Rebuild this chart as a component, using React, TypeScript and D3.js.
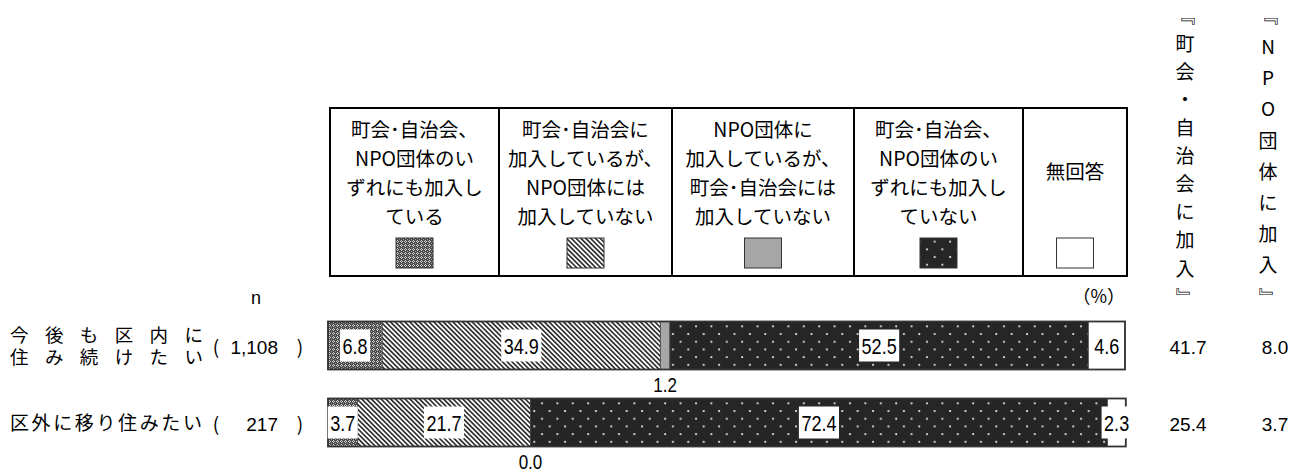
import React from 'react';
import * as d3 from 'd3';

// ---- data ----
const categories = ['今後も区内に住み続けたい', '区外に移り住みたい'];
const categoryLines = [['今後も区内に', '住み続けたい'], ['区外に移り住みたい']];
const sampleSizes = [1108, 217];

const seriesNames = [
  '町会･自治会、NPO団体のいずれにも加入している',
  '町会･自治会に加入しているが、NPO団体には加入していない',
  'NPO団体に加入しているが、町会･自治会には加入していない',
  '町会･自治会、NPO団体のいずれにも加入していない',
  '無回答',
];
const legendLines = [
  ['町会･自治会、', 'NPO団体のい', 'ずれにも加入し', 'ている'],
  ['町会･自治会に', '加入しているが、', 'NPO団体には', '加入していない'],
  ['NPO団体に', '加入しているが、', '町会･自治会には', '加入していない'],
  ['町会･自治会、', 'NPO団体のい', 'ずれにも加入し', 'ていない'],
  ['無回答'],
];

const rowValues = [
  [6.8, 34.9, 1.2, 52.5, 4.6],
  [3.7, 21.7, 0.0, 72.4, 2.3],
];
const townJoinTotals = [41.7, 25.4];
const npoJoinTotals = [8.0, 3.7];

const townHeader = '『町会・自治会に加入』';
const npoHeader = '『NPO団体に加入』';

// ---- layout / style ----
const W = 1304;
const H = 473;
const JP = "'Noto Sans CJK JP', sans-serif";
const NUM = "'Liberation Sans', Arial, sans-serif";
const fills = ['url(#pCross)', 'url(#pDiag)', '#a6a6a6', 'url(#pDots)', '#ffffff'];
const legendEdges = [330, 499, 672, 854, 1023, 1127];

const App = () => {
  const x = d3.scaleLinear().domain([0, 100]).range([328, 1125]);
  const y = d3.scalePoint<string>().domain(categories).range([345.5, 422.5]);
  const barH = 48;
  const fmt = d3.format('.1f');

  const labelWidth = (s: string) => {
    const digits = s.replace(/[^0-9]/g, '').length;
    return (digits * 0.556 + 0.278) * 22 * 0.82;
  };

  return (
    <svg width={W} height={H} style={{ position: 'absolute', left: 0, top: 0, background: '#fff' }}>
      <defs>
        <pattern id="pCross" width={4} height={4} patternUnits="userSpaceOnUse">
          <rect width={4} height={4} fill="#4a4a4a" />
          <rect x={1} y={0} width={1} height={1} fill="#d4d4d4" />
          <rect x={0} y={1} width={1} height={1} fill="#d4d4d4" />
          <rect x={2} y={1} width={1} height={1} fill="#d4d4d4" />
          <rect x={1} y={2} width={1} height={1} fill="#d4d4d4" />
          <rect x={3} y={3} width={1} height={1} fill="#9a9a9a" />
        </pattern>
        <pattern id="pDiag" width={3.4} height={3.4} patternUnits="userSpaceOnUse" patternTransform="rotate(-45)">
          <rect width={3.4} height={3.4} fill="#ffffff" />
          <rect width={1.7} height={3.4} fill="#333333" />
        </pattern>
        <pattern id="pDots" width={15.4} height={15.4} patternUnits="userSpaceOnUse">
          <rect width={15.4} height={15.4} fill="#262626" />
          <circle cx={3} cy={3} r={1.1} fill="#e6e6e6" />
          <circle cx={10.7} cy={10.7} r={1.1} fill="#e6e6e6" />
        </pattern>
      </defs>

      {/* legend table */}
      {seriesNames.map((name, i) => {
        const x0 = legendEdges[i];
        const x1 = legendEdges[i + 1];
        const cx = (x0 + x1) / 2;
        const lines = legendLines[i];
        const lineYs = lines.length === 1 ? [172] : lines.map((_, k) => 130 + k * 29);
        return (
          <g key={name}>
            <rect x={x0} y={108} width={x1 - x0} height={168} fill="none" stroke="#000" strokeWidth={2} />
            {lines.map((ln, k) => (
              <text key={k} x={cx} y={lineYs[k]} dy="0.35em" textAnchor="middle"
                fontFamily={JP} fontSize={19.5} fill="#000">{ln}</text>
            ))}
            <rect x={cx - 18.5} y={238} width={37} height={30} fill={fills[i]} stroke="#333" strokeWidth={1} />
          </g>
        );
      })}

      {/* vertical headers on the right */}
      {[townHeader, npoHeader].map((hdr, j) => {
        const chars = Array.from(hdr);
        const step = (297 - 16) / (chars.length - 1);
        const cx = j === 0 ? 1185 : 1268;
        return chars.map((c, k) => {
          const cy = 16 + k * step;
          const bracket = c === '『' || c === '』';
          return (
            <text key={`${j}-${k}`} x={cx} y={cy} dy="0.35em" textAnchor="middle"
              transform={bracket ? `rotate(90,${cx},${cy})` : undefined}
              fontFamily={JP} fontSize={19} fill="#000">{c}</text>
          );
        });
      })}

      <text x={256} y={298} dy="0.35em" textAnchor="middle" fontFamily={NUM} fontSize={18} fill="#000">n</text>
      <text x={1125} y={297} dy="0.35em" textAnchor="end" fontFamily={JP} fontSize={18} fill="#000">（%）</text>

      {/* rows */}
      {categories.map((cat, r) => {
        const cy = y(cat) as number;
        const vals = rowValues[r];
        const ends = Array.from(d3.cumsum(vals));
        const starts = ends.map((e, k) => e - vals[k]);
        const lines = categoryLines[r];
        return (
          <g key={cat}>
            {lines.length === 2 ? (
              <text fontFamily={JP} fontSize={18.5} fill="#000">
                {lines.map((ln, k) => (
                  <tspan key={k} x={10} y={cy - 10 + k * 22} dy="0.35em" textLength={193} lengthAdjust="spacing">{ln}</tspan>
                ))}
              </text>
            ) : (
              <text x={10} y={cy + 1} dy="0.35em" textLength={192} lengthAdjust="spacing"
                fontFamily={JP} fontSize={19} fill="#000">{lines[0]}</text>
            )}
            <text x={216} y={cy + 1.5} dy="0.35em" textAnchor="middle" fontFamily={JP} fontSize={19} fill="#000">(</text>
            <text x={278} y={cy + 1.5} dy="0.35em" textAnchor="end" fontFamily={NUM} fontSize={19} fill="#000">
              {d3.format(',')(sampleSizes[r])}
            </text>
            <text x={300} y={cy + 1.5} dy="0.35em" textAnchor="middle" fontFamily={JP} fontSize={19} fill="#000">)</text>

            {vals.map((v, k) => (
              <rect key={k} x={x(starts[k])} y={cy - barH / 2} width={x(ends[k]) - x(starts[k])} height={barH}
                fill={fills[k]} stroke="#444" strokeWidth={0.8} />
            ))}
            <rect x={x(0)} y={cy - barH / 2} width={x(ends[ends.length - 1]) - x(0)} height={barH}
              fill="none" stroke="#333" strokeWidth={1.8} />

            {vals.map((v, k) => {
              const mx = (x(starts[k]) + x(ends[k])) / 2;
              const s = fmt(v);
              if (v < 2) {
                return (
                  <g key={`l${k}`} transform={`translate(${mx},${cy + barH / 2 + 15}) scale(0.85,1)`}>
                    <text x={0} y={0} dy="0.35em" textAnchor="middle" fontFamily={NUM} fontSize={20} fill="#000">{s}</text>
                  </g>
                );
              }
              const bw = labelWidth(s) + 5;
              return (
                <g key={`l${k}`}>
                  <rect x={mx - bw / 2} y={cy - 16} width={bw} height={32} fill="#fff" />
                  <g transform={`translate(${mx},${cy + 1}) scale(0.82,1)`}>
                    <text x={0} y={0} dy="0.35em" textAnchor="middle" fontFamily={NUM} fontSize={22} fill="#000">{s}</text>
                  </g>
                </g>
              );
            })}

            <text x={1188} y={cy + 2} dy="0.35em" textAnchor="middle" fontFamily={NUM} fontSize={19} fill="#000">
              {fmt(townJoinTotals[r])}
            </text>
            <text x={1275} y={cy + 2} dy="0.35em" textAnchor="middle" fontFamily={NUM} fontSize={19} fill="#000">
              {fmt(npoJoinTotals[r])}
            </text>
          </g>
        );
      })}
    </svg>
  );
};

export default App;
